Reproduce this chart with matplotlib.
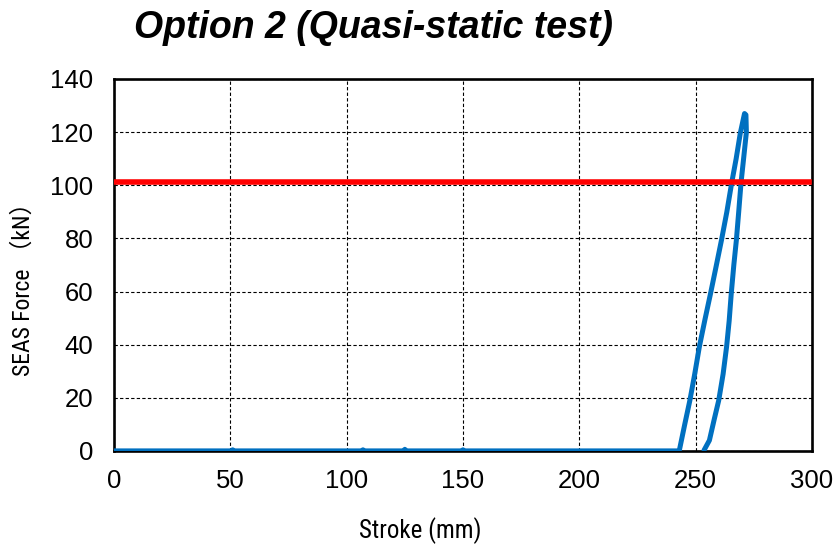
import matplotlib
matplotlib.use("Agg")
import matplotlib.pyplot as plt

# ---- data ----
title_text = "Option 2 (Quasi-static test)"
xlabel_text = "Stroke (mm)"
ylabel_text = "SEAS Force （kN）"
x_ticks = [0, 50, 100, 150, 200, 250, 300]
y_ticks = [0, 20, 40, 60, 80, 100, 120, 140]

# baseline (near zero force) before loading
stroke_base = [0, 50, 51, 52, 106, 107, 108, 124, 125, 126, 149, 150, 151, 243.0]
force_base = [0.3, 0.3, 0.7, 0.3, 0.3, 0.7, 0.3, 0.3, 0.9, 0.3, 0.3, 0.7, 0.3, 0.3]

# loading branch
stroke_load = [243.0, 245.3, 247.5, 249.6, 251.6, 254.0, 256.4, 258.8, 261.1,
               263.4, 265.5, 267.4, 269.2, 270.5, 271.0]
force_load = [0.3, 10, 19, 29, 39.3, 49.5, 59.3, 69.5, 79.4,
              90, 101, 110, 119.7, 125, 127]

# unloading branch
stroke_unload = [271.0, 271.6, 271.8, 270.6, 269.5, 268.5, 267.5, 266.4, 265.3,
                 264.4, 263.3, 261.8, 259.9, 258.0, 255.9, 253.6]
force_unload = [127, 126.5, 120, 110, 101, 90, 79.4, 70, 59.3,
                49, 39.3, 29, 19, 12, 4, 0.3]

# threshold line
threshold_force = 101.2
threshold_x = [0, 298.5]

# ---- plot ----
fig = plt.figure(figsize=(8.39, 5.44), dpi=100)
ax = fig.add_axes([114/839, 1-451/544, (812-114)/839, (451-79)/544])

blue = "#0070C0"
ax.plot(stroke_base, force_base, color=blue, lw=2.6, solid_capstyle="round", zorder=3)
ax.plot(stroke_load + stroke_unload[1:], force_load + force_unload[1:],
        color=blue, lw=3.6, solid_capstyle="round", solid_joinstyle="round", zorder=3)
ax.plot(threshold_x, [threshold_force, threshold_force], color="#FF0000", lw=4.0, zorder=4)

ax.set_xlim(0, 300)
ax.set_ylim(0, 140)
ax.set_xticks(x_ticks)
ax.set_yticks(y_ticks)
ax.tick_params(length=0, labelsize=18.5)
ax.tick_params(axis="x", pad=13)
ax.tick_params(axis="y", pad=15)
for lab in ax.get_xticklabels() + ax.get_yticklabels():
    lab.set_family("Liberation Sans")

ax.grid(True, color="black", linestyle=(0, (3, 2)), linewidth=0.8)
ax.set_axisbelow(True)
for s in ax.spines.values():
    s.set_linewidth(1.9)
    s.set_color("black")
    s.set_zorder(2)

fig.text(420/839, 1-531/544, xlabel_text, ha="center", va="center",
         fontsize=18, fontweight="normal", family=["Roboto Condensed", "Noto Sans CJK JP"])
fig.text(23/839, 1-283/544, ylabel_text, ha="center", va="center", rotation=90,
         fontsize=17, fontweight="normal", family=["Roboto Condensed", "Noto Sans CJK JP"])

fig.text(373/839, 1-28/544, title_text, ha="center", va="center",
         fontsize=27, fontweight="bold", fontstyle="italic", family="Liberation Sans")

fig.savefig("out.png", dpi=100)
